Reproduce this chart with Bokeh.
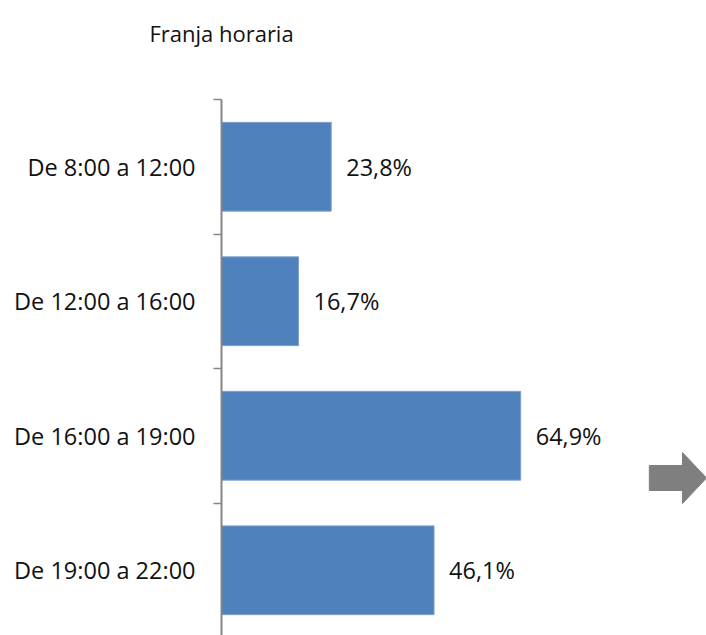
from bokeh.plotting import figure
from bokeh.models import Range1d, FixedTicker, ColumnDataSource, Label
from bokeh.core.properties import value
from bokeh.embed import file_html
from bokeh.resources import INLINE

title_text = "Franja horaria"
categories = ["De 8:00 a 12:00", "De 12:00 a 16:00", "De 16:00 a 19:00", "De 19:00 a 22:00"]
values = [23.8, 16.7, 64.9, 46.1]

FONT = "Open Sans"
pos = list(range(len(categories)))
labels = [f"{v:.1f}".replace(".", ",") + "%" for v in values]

src = ColumnDataSource(dict(y=pos, v=values, lab=labels))

p = figure(width=706, height=635, output_backend="svg", toolbar_location=None,
           x_range=Range1d(-47.94, 105.2), y_range=Range1d(3.485, -1.236),
           min_border=0)
p.outline_line_color = None
p.xgrid.visible = False
p.ygrid.visible = False
p.xaxis.visible = False
p.background_fill_color = "white"
p.border_fill_color = "white"

p.hbar(y="y", left=0, right="v", height=0.66, source=src,
       fill_color="#4F81BD", line_color="#7EA1CD", line_width=1)

p.text(x="v", y="y", text="lab", source=src, x_offset=15, y_offset=0,
       text_font=value(FONT), text_font_size="23.5px", text_color="#111111",
       text_align="left", text_baseline="middle")

ax = p.yaxis[0]
ax.fixed_location = 0
ax.ticker = FixedTicker(ticks=pos, minor_ticks=[i - 0.5 for i in range(len(categories) + 1)])
ax.bounds = (-0.5, 3.6)
ax.major_label_overrides = {i: c for i, c in zip(pos, categories)}
ax.major_tick_in = 0
ax.major_tick_out = 0
ax.minor_tick_in = 0
ax.minor_tick_out = 8
ax.minor_tick_line_color = "#868686"
ax.minor_tick_line_width = 1.5
ax.axis_line_color = "#868686"
ax.axis_line_width = 2
ax.major_label_standoff = 18
ax.major_label_text_font = FONT
ax.major_label_text_font_size = "23.5px"
ax.major_label_text_color = "#111111"

# decorative arrow at right edge
p.patch(x=[92.8, 100.0, 100.0, 105.2, 100.0, 100.0, 92.8],
        y=[2.221, 2.221, 2.125, 2.314, 2.504, 2.407, 2.407],
        fill_color="#7F7F7F", line_color="#7F7F7F", line_width=1)

p.add_layout(Label(x=0, y=-0.998, text=title_text, text_align="center",
                   text_baseline="alphabetic", text_font=FONT,
                   text_font_size="22px", text_color="#111111"))

open("out.html", "w").write(file_html(p, INLINE))
